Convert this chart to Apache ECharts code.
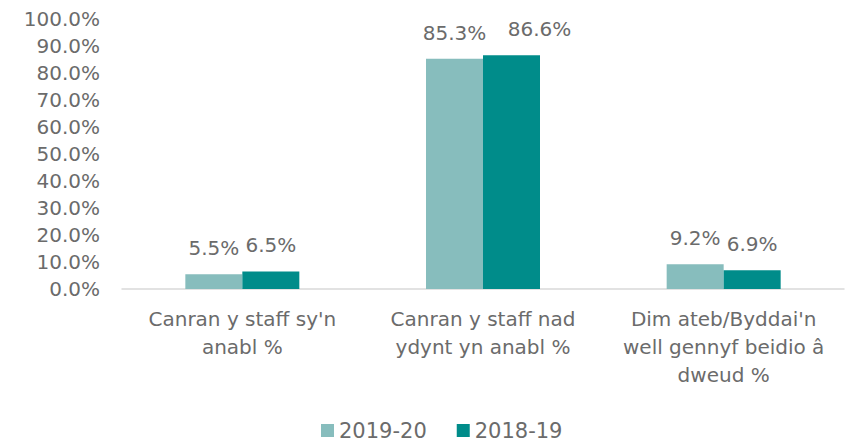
<!DOCTYPE html>
<html>
<head>
<meta charset="utf-8">
<script src="https://cdn.jsdelivr.net/npm/echarts@6/dist/echarts.min.js"></script>
<style>
  html, body { margin: 0; padding: 0; background: #fff; }
  #chart { width: 845px; height: 441px; }
</style>
</head>
<body>
<div id="chart"></div>
<script>
const categories = ["Canran y staff sy'n\nanabl %", "Canran y staff nad\nydynt yn anabl %", "Dim ateb/Byddai'n\nwell gennyf beidio â\ndweud %"];
const series2019 = [5.5, 85.3, 9.2];
const series2018 = [6.5, 86.6, 6.9];
const seriesNames = ['2019-20', '2018-19'];

const font = '"DejaVu Sans", sans-serif';
const grey = '#6b6b6b';

const chart = echarts.init(document.getElementById('chart'), null, { renderer: 'svg' });

const label = {
  show: true,
  position: 'top',
  distance: 16,
  color: grey,
  fontFamily: font,
  fontSize: 20,
  formatter: (p) => p.value.toFixed(1) + '%'
};

// the tall 2018-19 label sits nudged right in the original so it clears its neighbour
const data2018 = series2018.map((v, i) => (i === 1 ? { value: v, label: { offset: [28, 0] } } : v));

chart.setOption({
  animation: false,
  textStyle: { fontFamily: font },
  grid: { left: 122, right: 1, top: 19, bottom: 152 },
  legend: {
    left: 316,
    bottom: -5,
    itemWidth: 13,
    itemHeight: 13,
    itemGap: 30,
    icon: 'rect',
    textStyle: { color: grey, fontFamily: font, fontSize: 21 },
    data: seriesNames
  },
  xAxis: {
    type: 'category',
    data: categories,
    axisLine: { lineStyle: { color: '#d9d9d9', width: 1.5 } },
    axisTick: { show: false },
    axisLabel: { color: grey, fontFamily: font, fontSize: 20, lineHeight: 28, margin: 16, interval: 0 }
  },
  yAxis: {
    type: 'value',
    min: 0,
    max: 100,
    interval: 10,
    splitLine: { show: false },
    axisLine: { show: false },
    axisTick: { show: false },
    axisLabel: { color: grey, fontFamily: font, fontSize: 20, margin: 22, formatter: (v) => v.toFixed(1) + '%' }
  },
  series: [
    {
      name: seriesNames[0],
      type: 'bar',
      data: series2019,
      barWidth: 57,
      barGap: '0%',
      itemStyle: { color: '#87bdbd' },
      label
    },
    {
      name: seriesNames[1],
      type: 'bar',
      data: data2018,
      barWidth: 57,
      barGap: '0%',
      itemStyle: { color: '#008c8a' },
      label
    }
  ]
});
</script>
</body>
</html>
